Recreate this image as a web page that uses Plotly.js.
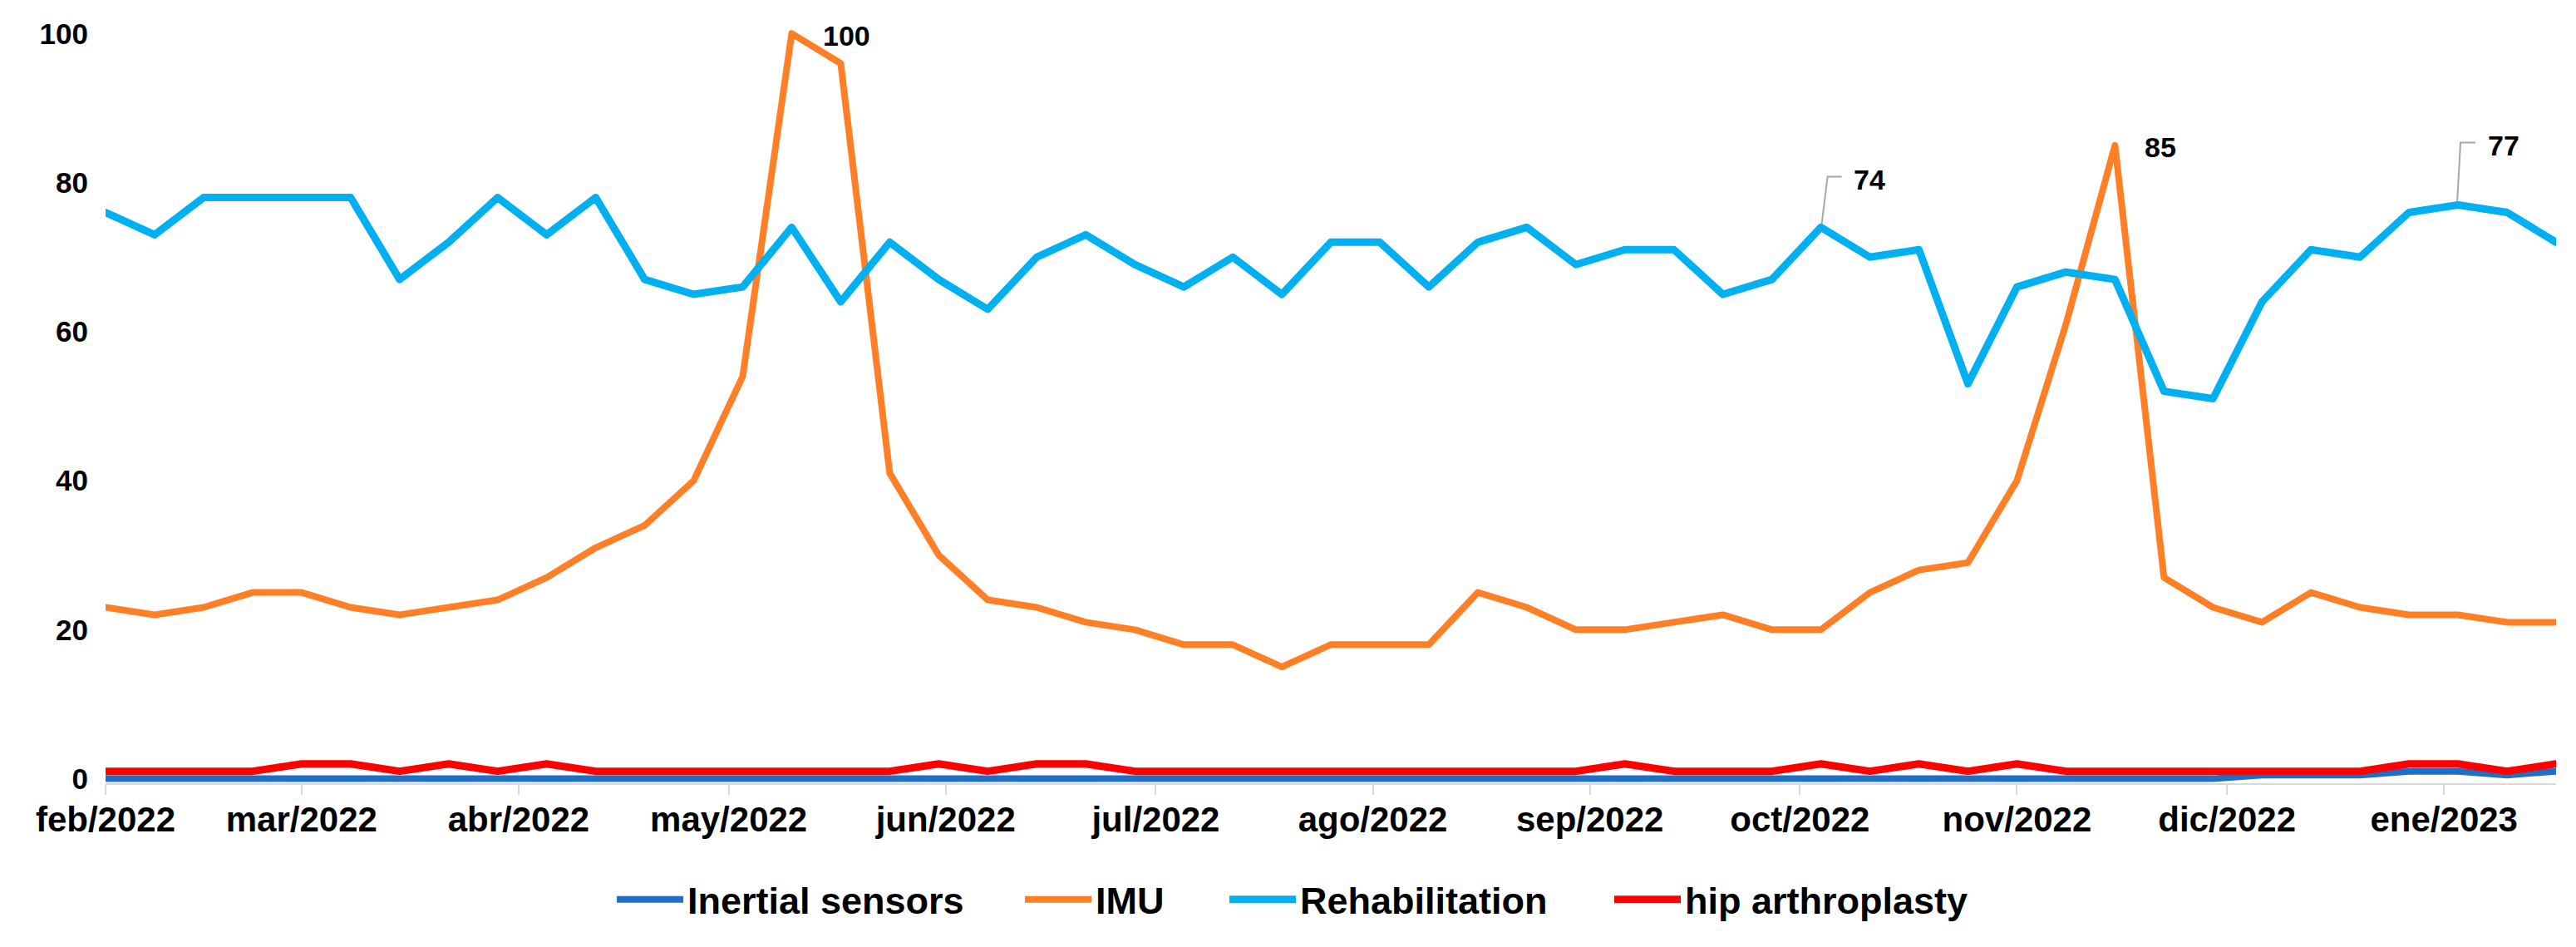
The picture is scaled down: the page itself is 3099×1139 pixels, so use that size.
<!DOCTYPE html>
<html>
<head>
<meta charset="utf-8">
<script src="https://cdn.plot.ly/plotly-3.0.1.min.js"></script>
<style>
  html, body { margin: 0; padding: 0; background: #ffffff; }
  #chart { width: 3099px; height: 1139px; }
  .scatterlayer path.js-line { stroke-linejoin: round !important; stroke-linecap: round !important; }
</style>
</head>
<body>
<div id="chart"></div>
<script>
// ---- data (weekly) ----
const weeks = [
  "2022-02-06","2022-02-13","2022-02-20","2022-02-27",
  "2022-03-06","2022-03-13","2022-03-20","2022-03-27",
  "2022-04-03","2022-04-10","2022-04-17","2022-04-24",
  "2022-05-01","2022-05-08","2022-05-15","2022-05-22","2022-05-29",
  "2022-06-05","2022-06-12","2022-06-19","2022-06-26",
  "2022-07-03","2022-07-10","2022-07-17","2022-07-24","2022-07-31",
  "2022-08-07","2022-08-14","2022-08-21","2022-08-28",
  "2022-09-04","2022-09-11","2022-09-18","2022-09-25",
  "2022-10-02","2022-10-09","2022-10-16","2022-10-23","2022-10-30",
  "2022-11-06","2022-11-13","2022-11-20","2022-11-27",
  "2022-12-04","2022-12-11","2022-12-18","2022-12-25",
  "2023-01-01","2023-01-08","2023-01-15","2023-01-22"
];

const inertialSensors = [
  0,0,0,0,0,0,0,0,0,0,
  0,0,0,0,0,0,0,0,0,0,
  0,0,0,0,0,0,0,0,0,0,
  0,0,0,0,0,0,0,0,0,0,
  0,0,0,0,0.5,0.5,0.5,1,1,0.5,
  1
];

const imu = [
  23,22,23,25,25,23,22,23,24,27,
  31,34,40,54,100,96,41,30,24,23,
  21,20,18,18,15,18,18,18,25,23,
  20,20,21,22,20,20,25,28,29,40,
  61,85,27,23,21,25,23,22,22,21,
  21
];

const rehabilitation = [
  76,73,78,78,78,78,67,72,78,73,
  78,67,65,66,74,64,72,67,63,70,
  73,69,66,70,65,72,72,66,72,74,
  69,71,71,65,67,74,70,71,53,66,
  68,67,52,51,64,71,70,76,77,76,
  72
];

const hipArthroplasty = [
  1,1,1,1,2,2,1,2,1,2,
  1,1,1,1,1,1,1,2,1,2,
  2,1,1,1,1,1,1,1,1,1,
  1,2,1,1,1,2,1,2,1,2,
  1,1,1,1,1,1,1,2,2,1,
  2
];

const seriesNames = ["Inertial sensors", "IMU", "Rehabilitation", "hip arthroplasty"];
const seriesColors = ["#1f6fc6", "#ff7f27", "#00b0f0", "#ff0000"];

const tickDates = [
  "2022-02-06","2022-03-06","2022-04-06","2022-05-06","2022-06-06","2022-07-06",
  "2022-08-06","2022-09-06","2022-10-06","2022-11-06","2022-12-06","2023-01-06"
];
const tickLabels = [
  "feb/2022","mar/2022","abr/2022","may/2022","jun/2022","jul/2022",
  "ago/2022","sep/2022","oct/2022","nov/2022","dic/2022","ene/2023"
];
const yTicks = [0, 20, 40, 60, 80, 100];

const FONT = "Liberation Sans, Arial, sans-serif";

// ---- traces, one legend box per series ----
const seriesValues = [inertialSensors, imu, rehabilitation, hipArthroplasty];
const widths = [8, 8, 9, 9];
const legendIds = ["legend", "legend2", "legend3", "legend4"];
const traces = seriesValues.map((vals, i) => ({
  type: "scatter",
  mode: "lines",
  name: seriesNames[i],
  legend: legendIds[i],
  x: weeks,
  y: vals,
  line: { color: seriesColors[i], width: widths[i], shape: "linear" },
  hoverinfo: "x+y+name"
}));

// ---- data labels ----
function pointLabel(vals, idx, xshift, yshift) {
  return {
    x: weeks[idx], y: vals[idx], xref: "x", yref: "y",
    text: String(vals[idx]), showarrow: false,
    xanchor: "left", yanchor: "middle",
    xshift: xshift, yshift: yshift,
    font: { family: FONT, size: 34, color: "#000000", weight: "bold" }
  };
}
function argMaxIn(vals, from, to) {
  let best = from;
  for (let i = from; i <= to; i++) if (vals[i] > vals[best]) best = i;
  return best;
}
const imuPeak1 = argMaxIn(imu, 0, 25);
const imuPeak2 = argMaxIn(imu, 26, imu.length - 1);
const rehabIdx1 = weeks.indexOf("2022-10-09");
const rehabIdx2 = argMaxIn(rehabilitation, 40, rehabilitation.length - 1);

const annotations = [
  pointLabel(imu, imuPeak1, 36, -3),
  pointLabel(imu, imuPeak2, 34, -2),
  pointLabel(rehabilitation, rehabIdx1, 37, 57),
  pointLabel(rehabilitation, rehabIdx2, 34, 72)
];

function leader(vals, idx, path) {
  return {
    type: "path", xref: "x", yref: "y",
    xsizemode: "pixel", ysizemode: "pixel",
    xanchor: weeks[idx], yanchor: vals[idx],
    path: path,
    line: { color: "#a6a6a6", width: 2 }
  };
}
const shapes = [
  leader(rehabilitation, rehabIdx1, "M1,4 L8,61 L25,61"),
  leader(rehabilitation, rehabIdx2, "M-1,4 L3,75 L21,75")
];

function legendBox(xPx) {
  return {
    orientation: "h",
    xref: "container", yref: "container",
    x: xPx / 3099, xanchor: "left",
    y: 0.050, yanchor: "middle",
    font: { family: FONT, size: 45, color: "#000000", weight: "bold" },
    itemwidth: 80,
    bgcolor: "rgba(0,0,0,0)",
    borderwidth: 0
  };
}

const layout = {
  width: 3099, height: 1139,
  margin: { l: 127, r: 24, t: 35, b: 197 },
  paper_bgcolor: "#ffffff", plot_bgcolor: "#ffffff",
  font: { family: FONT, color: "#000000", weight: "bold" },
  showlegend: true,
  legend: legendBox(737),
  legend2: legendBox(1228),
  legend3: legendBox(1474),
  legend4: legendBox(1937),
  xaxis: {
    type: "date",
    range: [weeks[0], weeks[weeks.length - 1]],
    tickmode: "array",
    tickvals: tickDates,
    ticktext: tickLabels,
    ticks: "outside", ticklen: 12, tickwidth: 2, tickcolor: "#d9d9d9",
    showline: true, linecolor: "#d9d9d9", linewidth: 2,
    showgrid: false, zeroline: false,
    tickfont: { family: FONT, size: 42, color: "#000000", weight: "bold" },
    ticklabelstandoff: -6
  },
  yaxis: {
    range: [-0.6, 100.6],
    tickmode: "array",
    tickvals: yTicks,
    ticks: "", showline: false, showgrid: false, zeroline: false,
    tickfont: { family: FONT, size: 35, color: "#000000", weight: "bold" },
    ticklabelstandoff: 20
  },
  annotations: annotations,
  shapes: shapes
};

Plotly.newPlot("chart", traces, layout, { staticPlot: true, displayModeBar: false });
</script>
</body>
</html>
